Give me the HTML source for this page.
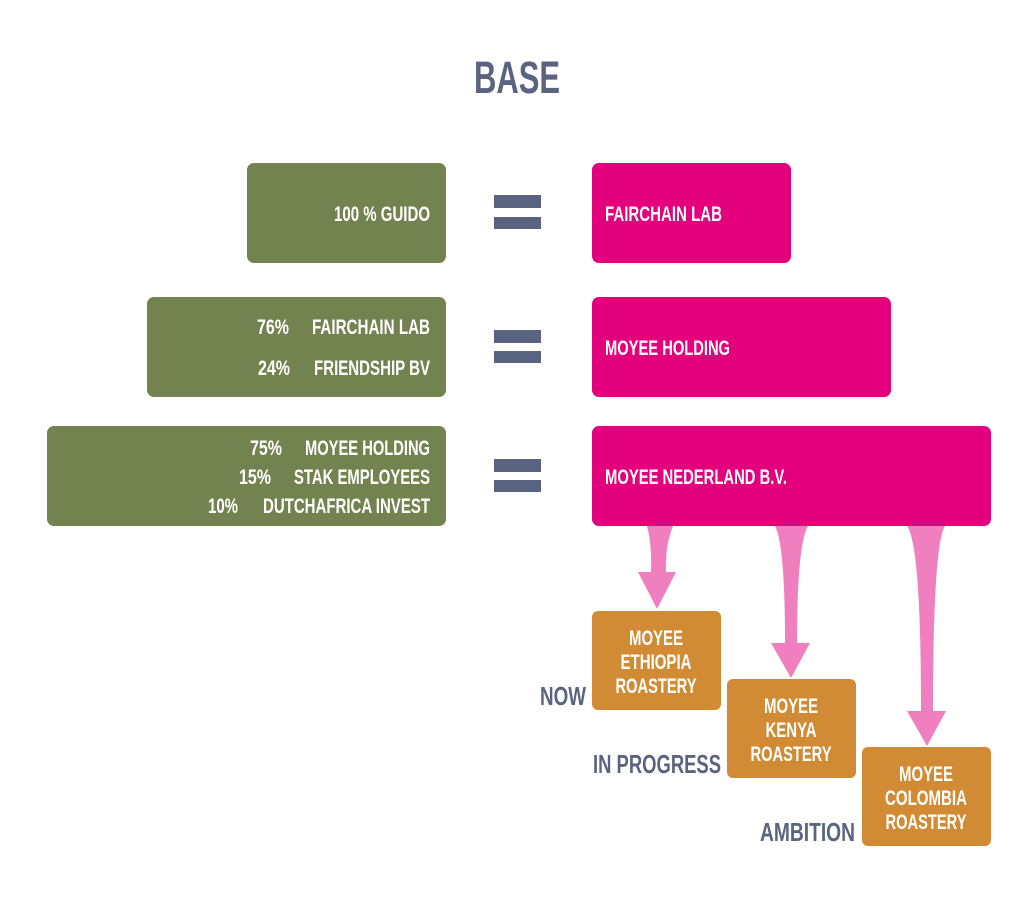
<!DOCTYPE html>
<html><head><meta charset="utf-8"><style>
html,body{margin:0;padding:0;background:#fff;}
svg{display:block;}
text{font-family:"Liberation Sans",sans-serif;font-weight:bold;}
</style></head><body>
<svg width="1029" height="911" viewBox="0 0 1029 911" xmlns="http://www.w3.org/2000/svg">
<text x="517" y="93" text-anchor="middle" font-size="45" fill="#5a6480" textLength="86" lengthAdjust="spacingAndGlyphs">BASE</text>

<!-- green boxes -->
<rect x="247" y="163" width="199" height="100" rx="7" fill="#738350"/>
<rect x="147" y="297" width="299" height="100" rx="7" fill="#738350"/>
<rect x="47" y="426" width="399" height="100" rx="7" fill="#738350"/>
<g fill="#fff" font-size="21">
<text x="334" y="221" textLength="96" lengthAdjust="spacingAndGlyphs">100 % GUIDO</text>
<text x="257" y="334" textLength="32" lengthAdjust="spacingAndGlyphs">76%</text>
<text x="312" y="334" textLength="118" lengthAdjust="spacingAndGlyphs">FAIRCHAIN LAB</text>
<text x="258" y="375" textLength="32" lengthAdjust="spacingAndGlyphs">24%</text>
<text x="314" y="375" textLength="116" lengthAdjust="spacingAndGlyphs">FRIENDSHIP BV</text>
<text x="250" y="455" textLength="32" lengthAdjust="spacingAndGlyphs">75%</text>
<text x="305" y="455" textLength="125" lengthAdjust="spacingAndGlyphs">MOYEE HOLDING</text>
<text x="239" y="484" textLength="32" lengthAdjust="spacingAndGlyphs">15%</text>
<text x="294" y="484" textLength="136" lengthAdjust="spacingAndGlyphs">STAK EMPLOYEES</text>
<text x="208" y="513" textLength="30" lengthAdjust="spacingAndGlyphs">10%</text>
<text x="263" y="513" textLength="167" lengthAdjust="spacingAndGlyphs">DUTCHAFRICA INVEST</text>
</g>

<!-- equals -->
<g fill="#5a6480">
<rect x="494" y="195" width="47" height="13"/><rect x="494" y="217" width="47" height="12"/>
<rect x="494" y="330" width="47" height="13"/><rect x="494" y="351" width="47" height="12"/>
<rect x="494" y="459" width="47" height="13"/><rect x="494" y="480" width="47" height="12"/>
</g>

<!-- pink boxes -->
<rect x="592" y="163" width="199" height="100" rx="7" fill="#e4007c"/>
<rect x="592" y="297" width="299" height="100" rx="7" fill="#e4007c"/>
<rect x="592" y="426" width="399" height="100" rx="7" fill="#e4007c"/>
<g fill="#fff" font-size="21">
<text x="605" y="221" textLength="117" lengthAdjust="spacingAndGlyphs">FAIRCHAIN LAB</text>
<text x="605" y="355" textLength="125" lengthAdjust="spacingAndGlyphs">MOYEE HOLDING</text>
<text x="605" y="484" textLength="182" lengthAdjust="spacingAndGlyphs">MOYEE NEDERLAND B.V.</text>
</g>

<!-- arrows -->
<g fill="#f07fbf">
<path d="M647 526 L673 526 Q665 545 666 572 L676 572 L657 609 L638 572 L651 572 Q652 545 647 526 Z"/>
<path d="M775 526 L808 526 Q797 545 797 643 L810 643 L791 678 L771 643 L785 643 Q785 545 775 526 Z"/>
<path d="M907 526 L945 526 Q933 545 933 711 L946 711 L927 746 L907 711 L921 711 Q921 545 907 526 Z"/>
</g>

<!-- orange boxes -->
<rect x="592" y="611" width="129" height="99" rx="6" fill="#d28b35"/>
<rect x="727" y="679" width="129" height="99" rx="6" fill="#d28b35"/>
<rect x="862" y="747" width="129" height="99" rx="6" fill="#d28b35"/>
<g fill="#fff" font-size="21" text-anchor="middle">
<text x="656" y="645" textLength="54" lengthAdjust="spacingAndGlyphs">MOYEE</text>
<text x="656" y="669" textLength="71" lengthAdjust="spacingAndGlyphs">ETHIOPIA</text>
<text x="656" y="693" textLength="81" lengthAdjust="spacingAndGlyphs">ROASTERY</text>
<text x="791" y="713" textLength="54" lengthAdjust="spacingAndGlyphs">MOYEE</text>
<text x="791" y="737" textLength="51" lengthAdjust="spacingAndGlyphs">KENYA</text>
<text x="791" y="761" textLength="81" lengthAdjust="spacingAndGlyphs">ROASTERY</text>
<text x="926" y="781" textLength="54" lengthAdjust="spacingAndGlyphs">MOYEE</text>
<text x="926" y="805" textLength="82" lengthAdjust="spacingAndGlyphs">COLOMBIA</text>
<text x="926" y="829" textLength="81" lengthAdjust="spacingAndGlyphs">ROASTERY</text>
</g>

<g fill="#5a6480" font-size="26">
<text x="540" y="705" textLength="46" lengthAdjust="spacingAndGlyphs">NOW</text>
<text x="593" y="773" textLength="128" lengthAdjust="spacingAndGlyphs">IN PROGRESS</text>
<text x="760" y="841" textLength="95" lengthAdjust="spacingAndGlyphs">AMBITION</text>
</g>
</svg>
</body></html>
